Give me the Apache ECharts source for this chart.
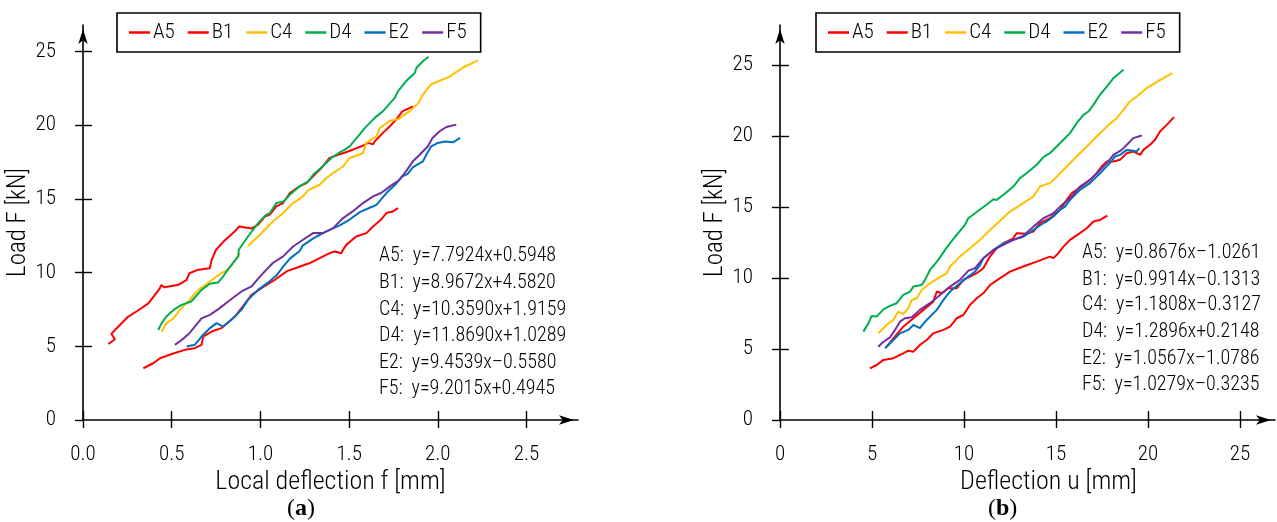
<!DOCTYPE html>
<html>
<head>
<meta charset="utf-8">
<script src="https://cdn.jsdelivr.net/npm/echarts@6/dist/echarts.min.js"></script>
<style>
html,body{margin:0;padding:0;background:#fff;}
#chart{width:1277px;height:522px;}
</style>
</head>
<body>
<div id="chart"></div>
<script>
// ---------- DATA ----------
const seriesNames = ['A5','B1','C4','D4','E2','F5'];
const seriesColors = ['#ff0000','#ff0000','#ffc000','#00b050','#0070c0','#7030a0'];

// Panel (a): local deflection f [mm] vs load F [kN]
const a_A5 = [[0.34,3.51],[0.396,3.85],[0.434,4.19],[0.50,4.48],[0.574,4.76],[0.63,4.87],[0.668,5.1],[0.677,5.66],[0.725,6.0],[0.78,6.23],[0.856,7.02],[0.90,7.7],[0.95,8.49],[1.006,8.95],[1.08,9.5],[1.15,10.1],[1.22,10.4],[1.278,10.65],[1.334,10.98],[1.39,11.32],[1.419,11.43],[1.456,11.32],[1.466,11.55],[1.485,11.9],[1.54,12.45],[1.597,12.68],[1.635,13.13],[1.68,13.6],[1.71,14.04],[1.747,14.15],[1.775,14.38]];
const a_B1 = [[0.143,5.16],[0.18,5.48],[0.16,5.84],[0.19,6.23],[0.255,7.02],[0.31,7.43],[0.37,7.93],[0.405,8.49],[0.434,8.95],[0.44,9.15],[0.46,9.0],[0.47,9.1],[0.537,9.17],[0.584,9.5],[0.60,9.96],[0.65,10.2],[0.715,10.3],[0.725,10.87],[0.75,11.55],[0.80,12.2],[0.856,12.8],[0.88,13.13],[0.95,13.0],[0.987,13.25],[1.025,13.8],[1.053,13.93],[1.09,14.49],[1.128,14.72],[1.166,15.4],[1.22,15.85],[1.26,16.08],[1.315,16.76],[1.344,17.1],[1.39,17.78],[1.437,18.0],[1.466,18.1],[1.52,18.34],[1.57,18.57],[1.607,18.8],[1.635,18.7],[1.644,18.9],[1.69,19.48],[1.73,19.93],[1.766,20.4],[1.80,20.94],[1.86,21.28]];
const a_C4 = [[0.443,6.0],[0.47,6.57],[0.51,6.9],[0.546,7.47],[0.60,8.15],[0.65,8.83],[0.715,9.4],[0.753,9.74],[0.78,9.96],[0.82,10.2],[0.884,11.3],[null,null],[0.93,11.8],[0.997,12.57],[1.07,13.47],[1.128,14.04],[1.184,14.72],[1.24,15.17],[1.27,15.6],[1.334,15.96],[1.372,16.42],[1.41,16.76],[1.466,17.2],[1.503,17.78],[1.578,18.1],[1.597,18.8],[1.654,19.25],[1.672,19.8],[1.73,20.3],[1.775,20.4],[1.84,20.94],[1.89,21.5],[1.916,22.08],[1.96,22.76],[2.066,23.3],[2.14,23.9],[2.226,24.4]];
const a_D4 = [[0.424,6.11],[0.443,6.57],[0.47,7.02],[0.51,7.47],[0.556,7.81],[0.61,8.04],[0.668,8.83],[0.715,9.24],[0.762,9.33],[0.79,9.74],[0.818,10.24],[0.875,11.1],[0.878,11.55],[0.93,12.45],[0.987,13.36],[1.03,13.9],[1.053,14.04],[1.09,14.72],[1.13,14.83],[1.166,15.28],[1.22,15.85],[1.27,16.19],[1.297,16.64],[1.35,17.2],[1.40,17.78],[1.44,18.1],[1.475,18.34],[1.503,18.57],[1.55,19.25],[1.588,19.8],[1.644,20.5],[1.69,20.94],[1.757,21.85],[1.775,22.3],[1.82,22.98],[1.87,23.55],[1.88,23.9],[1.916,24.34],[1.948,24.64]];
const a_E2 = [[0.584,4.98],[0.63,5.1],[0.668,5.66],[0.715,6.23],[0.753,6.57],[0.79,6.34],[0.837,6.8],[0.893,7.47],[0.93,8.15],[0.987,8.83],[1.04,9.3],[1.09,9.8],[1.128,10.4],[1.166,10.95],[1.22,11.45],[1.24,11.85],[1.29,12.25],[1.316,12.45],[1.372,12.8],[1.447,13.2],[1.503,13.6],[1.56,14.1],[1.616,14.4],[1.654,14.6],[1.71,15.4],[1.766,16.05],[1.795,16.5],[1.83,16.7],[1.86,17.15],[1.916,17.55],[1.935,18.0],[1.963,18.57],[2.0,18.8],[2.04,18.9],[2.085,18.84],[2.126,19.14]];
const a_F5 = [[0.518,5.1],[0.556,5.43],[0.60,5.89],[0.668,6.9],[0.715,7.13],[0.771,7.59],[0.818,8.04],[0.893,8.72],[0.95,9.06],[1.006,9.85],[1.07,10.65],[1.128,11.1],[1.184,11.77],[1.24,12.23],[1.297,12.68],[1.353,12.68],[1.41,13.02],[1.466,13.7],[1.52,14.15],[1.578,14.72],[1.635,15.17],[1.68,15.4],[1.73,15.85],[1.785,16.3],[1.82,16.87],[1.86,17.55],[1.898,18.0],[1.944,18.57],[1.97,19.14],[2.01,19.59],[2.048,19.88],[2.104,20.04]];

// Panel (b): deflection u [mm] vs load F [kN]
const b_A5 = [[4.89,3.64],[5.25,3.87],[5.62,4.23],[6.16,4.35],[6.70,4.69],[6.97,4.88],[7.25,4.81],[7.6,5.28],[7.97,5.63],[8.33,6.1],[8.88,6.34],[9.24,6.57],[9.6,7.16],[9.96,7.39],[10.33,8.1],[10.69,8.57],[11.05,8.92],[11.41,9.5],[11.96,9.98],[12.5,10.44],[13.22,10.8],[13.95,11.15],[14.67,11.5],[14.86,11.39],[15.13,11.74],[15.4,12.2],[15.76,12.68],[16.3,13.15],[16.67,13.5],[17.03,13.97],[17.39,14.08],[17.79,14.39]];
const b_B1 = [[5.8,5.16],[6.16,5.75],[6.70,6.57],[7.25,7.16],[7.79,7.75],[8.33,8.33],[8.52,9.04],[8.79,8.92],[9.15,9.27],[9.6,9.27],[9.96,9.86],[10.33,10.09],[10.69,10.33],[11.05,10.68],[11.41,11.5],[11.78,12.09],[12.14,12.44],[12.68,12.79],[12.86,13.15],[13.4,13.1],[13.77,13.26],[14.13,13.85],[14.67,14.2],[15.22,14.79],[15.58,15.49],[15.85,15.96],[16.12,16.2],[16.49,16.55],[16.85,16.9],[17.21,17.37],[17.48,17.84],[17.76,18.19],[18.12,18.19],[18.48,18.31],[18.84,18.78],[19.2,18.9],[19.57,18.66],[19.75,19.01],[20.11,19.37],[20.38,19.72],[20.65,20.3],[21.02,20.77],[21.41,21.32]];
const b_C4 = [[5.34,6.1],[5.62,6.46],[5.89,6.8],[6.16,7.04],[6.43,7.63],[6.70,7.46],[6.97,7.86],[7.16,8.45],[7.43,8.57],[7.70,9.15],[8.15,9.62],[8.6,9.98],[9.06,10.33],[9.24,10.8],[9.78,11.5],[10.33,12.09],[10.87,12.68],[11.41,13.38],[11.9,13.95],[12.5,14.67],[13.22,15.26],[13.77,15.73],[14.13,16.43],[14.67,16.67],[15.04,17.13],[15.58,17.84],[16.12,18.54],[16.67,19.25],[17.21,19.95],[17.76,20.65],[18.3,21.25],[18.66,21.83],[19.02,22.42],[19.39,22.77],[19.93,23.36],[20.38,23.71],[20.83,24.06],[21.32,24.41]];
const b_D4 = [[4.53,6.22],[4.80,6.8],[4.98,7.32],[5.25,7.28],[5.62,7.79],[5.98,8.03],[6.34,8.22],[6.70,8.8],[7.07,9.04],[7.25,9.39],[7.70,9.5],[7.88,9.86],[8.15,10.56],[8.6,11.27],[8.97,11.97],[9.24,12.44],[9.6,13.03],[10.05,13.73],[10.23,14.2],[10.6,14.55],[10.96,14.9],[11.32,15.26],[11.6,15.54],[11.78,15.49],[12.14,15.85],[12.68,16.43],[13.04,17.02],[13.4,17.37],[13.95,17.96],[14.31,18.5],[14.67,18.78],[15.04,19.25],[15.4,19.72],[15.76,20.19],[16.12,20.89],[16.49,21.48],[16.76,21.71],[17.03,22.18],[17.39,22.89],[17.76,23.47],[18.12,24.06],[18.66,24.65]];
const b_E2 = [[5.71,5.05],[6.07,5.51],[6.52,6.1],[6.97,6.34],[7.25,6.69],[7.6,6.46],[7.97,7.04],[8.52,7.75],[8.88,8.45],[9.24,9.04],[9.78,9.62],[10.23,10.09],[10.6,10.44],[10.87,10.9],[11.05,11.39],[11.6,11.97],[12.14,12.44],[12.68,12.68],[13.22,12.9],[13.77,13.38],[14.31,13.85],[14.49,13.97],[14.86,14.32],[15.22,14.79],[15.49,15.02],[15.76,15.49],[16.3,16.2],[16.85,16.67],[17.21,17.13],[17.57,17.6],[17.93,18.08],[18.2,18.54],[18.48,18.66],[18.84,19.01],[19.11,18.97],[19.38,18.9],[19.53,19.13]];
const b_F5 = [[5.34,5.16],[5.62,5.51],[5.98,5.82],[6.25,6.34],[6.52,6.92],[6.79,7.16],[7.16,7.23],[7.6,7.75],[8.15,8.22],[8.7,8.8],[9.24,9.39],[9.78,9.86],[10.24,10.51],[10.6,10.68],[11.05,11.39],[11.6,11.97],[12.14,12.32],[12.68,12.68],[13.22,12.96],[13.77,13.61],[14.31,14.2],[14.49,14.32],[14.86,14.55],[15.22,15.02],[15.76,15.6],[16.3,16.43],[16.85,16.9],[17.39,17.6],[17.76,18.08],[18.12,18.66],[18.57,19.01],[18.93,19.48],[19.2,19.84],[19.66,20.02]];

// Tick values
const fTicks = [0, 0.5, 1.0, 1.5, 2.0, 2.5];
const uTicks = [0, 5, 10, 15, 20, 25];
const loadTicks = [0, 5, 10, 15, 20, 25];

// Fit equations (text)
const eqA = ['A5:  y=7.7924x+0.5948','B1:  y=8.9672x+4.5820','C4:  y=10.3590x+1.9159','D4:  y=11.8690x+1.0289','E2:  y=9.4539x–0.5580','F5:  y=9.2015x+0.4945'];
const eqB = ['A5:  y=0.8676x–1.0261','B1:  y=0.9914x–0.1313','C4:  y=1.1808x–0.3127','D4:  y=1.2896x+0.2148','E2:  y=1.0567x–1.0786','F5:  y=1.0279x–0.3235'];

// ---------- CHART ----------
const FONT = "'Roboto Condensed','DejaVu Sans Condensed',sans-serif";
const SERIF = "'Liberation Serif','DejaVu Serif',serif";
const FW = 300;
const chart = echarts.init(document.getElementById('chart'), null, {renderer:'canvas'});

function mainX(grid, max, ticks, name, fmt, namePad) {
  return {
    type:'value', gridIndex:grid, position:'bottom', min:0, max:max,
    name:name, nameLocation:'middle', nameGap:47,
    nameTextStyle:{fontFamily:FONT, fontWeight:FW, fontSize:26, color:'#000', padding:namePad},
    axisLine:{show:true, onZero:false, symbol:['none','arrow'], symbolSize:[7,15], symbolOffset:[0,-4], lineStyle:{color:'#000', width:1.6}},
    axisTick:{show:true, length:8, customValues:ticks, lineStyle:{color:'#000', width:1.4}},
    axisLabel:{show:true, margin:24, customValues:ticks, formatter:fmt, fontFamily:FONT, fontWeight:FW, fontSize:21, color:'#000'},
    splitLine:{show:false}
  };
}
function innerX(grid, max, ticks) {
  return {
    type:'value', gridIndex:grid, position:'bottom', min:0, max:max,
    axisLine:{show:false}, axisLabel:{show:false}, splitLine:{show:false},
    axisTick:{show:true, inside:true, length:9, customValues:ticks, lineStyle:{color:'#000', width:1.4}}
  };
}
function mainY(grid, max, ticks, name) {
  return {
    type:'value', gridIndex:grid, position:'left', min:0, max:max,
    name:name, nameLocation:'middle', nameGap:49,
    nameTextStyle:{fontFamily:FONT, fontWeight:FW, fontSize:25, color:'#000'},
    axisLine:{show:true, onZero:false, symbol:['none','arrow'], symbolSize:[7,15], symbolOffset:[0,-4], lineStyle:{color:'#000', width:1.6}},
    axisTick:{show:true, length:8, customValues:ticks, lineStyle:{color:'#000', width:1.4}},
    axisLabel:{show:true, margin:27, customValues:ticks, fontFamily:FONT, fontWeight:FW, fontSize:21, color:'#000'},
    splitLine:{show:false}
  };
}
function innerY(grid, max, ticks) {
  return {
    type:'value', gridIndex:grid, position:'left', min:0, max:max,
    axisLine:{show:false}, axisLabel:{show:false}, splitLine:{show:false},
    axisTick:{show:true, inside:true, length:9, customValues:ticks.filter(v=>v>0), lineStyle:{color:'#000', width:1.4}}
  };
}

const dataA = [a_A5,a_B1,a_C4,a_D4,a_E2,a_F5];
const dataB = [b_A5,b_B1,b_C4,b_D4,b_E2,b_F5];
const series = [];
dataA.forEach((d,i)=>series.push({name:seriesNames[i], type:'line', xAxisIndex:0, yAxisIndex:0, data:d, showSymbol:false, symbol:'none', connectNulls:false, lineStyle:{width:2, color:seriesColors[i]}, itemStyle:{color:seriesColors[i]}, z:2}));
dataB.forEach((d,i)=>series.push({name:seriesNames[i], type:'line', xAxisIndex:2, yAxisIndex:2, data:d, showSymbol:false, symbol:'none', lineStyle:{width:2, color:seriesColors[i]}, itemStyle:{color:seriesColors[i]}, z:2}));

function legend(left) {
  return {
    left:left, top:13, orient:'horizontal', icon:'rect', itemWidth:21, itemHeight:2.5, itemGap:13,
    data:seriesNames, selectedMode:false,
    borderColor:'#000', borderWidth:1.6, padding:[9,14,9,12], backgroundColor:'#fff',
    textStyle:{fontFamily:FONT, fontWeight:FW, fontSize:21, color:'#000', padding:[0,0,0,-2]}
  };
}

const graphics = [];
const rowA = [258,285,312,338,365,391];
const rowB = [255,282,307,334,361,387];
eqA.forEach((t,i)=>graphics.push({type:'text', left:379, top:rowA[i]-12, style:{text:t, font:FW+" 20px "+FONT, fill:'#000'}}));
eqB.forEach((t,i)=>graphics.push({type:'text', left:1082, top:rowB[i]-12, style:{text:t, font:FW+" 20px "+FONT, fill:'#000'}}));

const option = {
  animation:false,
  backgroundColor:'#fff',
  title:[
    {text:'({b|a})', left:282, top:492, textStyle:{fontFamily:SERIF, fontSize:24, fontWeight:'normal', color:'#000', rich:{b:{fontFamily:SERIF, fontSize:24, fontWeight:'bold', color:'#000'}}}},
    {text:'({b|b})', left:983, top:492, textStyle:{fontFamily:SERIF, fontSize:24, fontWeight:'normal', color:'#000', rich:{b:{fontFamily:SERIF, fontSize:24, fontWeight:'bold', color:'#000'}}}}
  ],
  legend:[legend(117), legend(816)],
  grid:[
    {left:83, top:25, width:495, height:395, containLabel:false},
    {left:780, top:25, width:495, height:395, containLabel:false}
  ],
  xAxis:[
    mainX(0, 2.79, fTicks, 'Local deflection f [mm]', v=>v.toFixed(1), [0,0,0,0]),
    innerX(0, 2.79, fTicks),
    mainX(1, 26.9, uTicks, 'Deflection u [mm]', v=>String(v), [0,0,0,42]),
    innerX(1, 26.9, uTicks)
  ],
  yAxis:[
    mainY(0, 26.8, loadTicks, 'Load F [kN]'),
    innerY(0, 26.8, loadTicks),
    mainY(1, 27.8, loadTicks, 'Load F [kN]'),
    innerY(1, 27.8, loadTicks)
  ],
  graphic:graphics,
  series:series
};
chart.setOption(option);
</script>
</body>
</html>
